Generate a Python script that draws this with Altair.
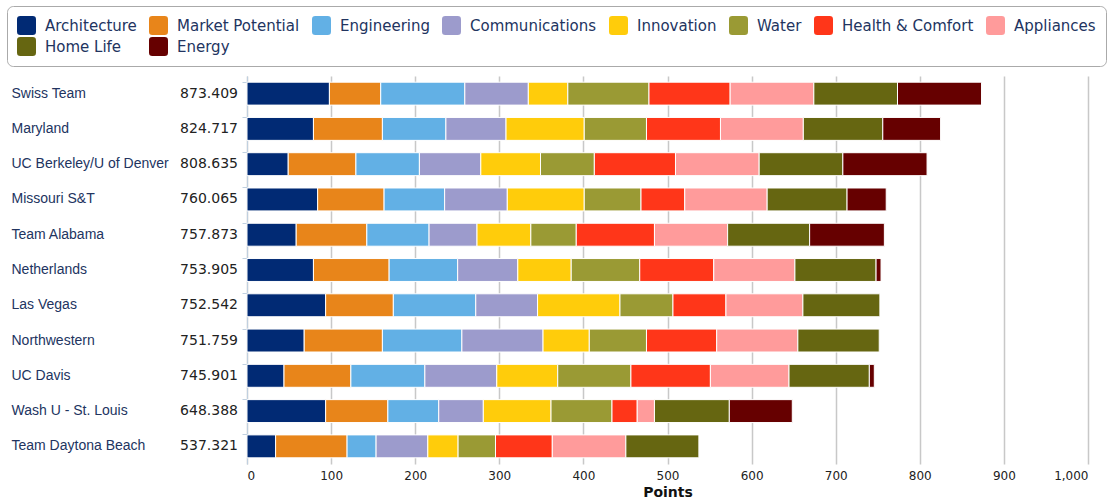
import altair as alt
import pandas as pd

teams = ["Swiss Team", "Maryland", "UC Berkeley/U of Denver", "Missouri S&T", "Team Alabama",
         "Netherlands", "Las Vegas", "Northwestern", "UC Davis", "Wash U - St. Louis",
         "Team Daytona Beach"]
totals = ["873.409", "824.717", "808.635", "760.065", "757.873", "753.905", "752.542",
          "751.759", "745.901", "648.388", "537.321"]

categories = ["Architecture", "Market Potential", "Engineering", "Communications", "Innovation",
              "Water", "Health & Comfort", "Appliances", "Home Life", "Energy"]
colors = ["#012a74", "#e8851a", "#62b0e5", "#9c9bcc", "#ffcc0b", "#9a9a34", "#ff3619",
          "#ff9b9b", "#666611", "#660000"]

architecture = [98, 79, 49, 84, 58.5, 79, 93.5, 68, 44, 93.5, 34]
market_potential = [61, 82, 80.5, 79, 84, 90, 80.5, 93, 79.5, 74, 85]
engineering = [100, 75.5, 75.5, 72, 74, 81.5, 98, 94.5, 88, 60.5, 34.5]
communications = [75.5, 71.5, 73, 74.5, 57, 71.5, 73.5, 96.5, 85.5, 53, 61.5]
innovation = [47, 93, 71, 91.5, 64, 63.5, 98, 55, 72.5, 80.5, 36]
water = [96.5, 74, 64, 67.5, 54, 81.5, 63, 68, 87, 72.5, 44.5]
health_comfort = [96.5, 88, 96.5, 52, 93, 88, 63, 83.5, 94.5, 30, 67.5]
appliances = [99.5, 98.5, 99.5, 98, 87, 96.5, 91.5, 96.5, 93.5, 20.5, 87.5]
home_life = [99.5, 94.5, 99.5, 95, 97.5, 96.5, 91.542, 96.759, 95.5, 89, 86.821]
energy = [99.909, 68.717, 100.135, 46.565, 88.873, 5.905, 0, 0, 5.901, 74.888, 0]

series = [architecture, market_potential, engineering, communications, innovation,
          water, health_comfort, appliances, home_life, energy]

rows = []
for ci, (cat, vals) in enumerate(zip(categories, series)):
    for team, v in zip(teams, vals):
        if v > 0:
            rows.append({"team": team, "category": cat, "idx": ci, "points": v})
df = pd.DataFrame(rows)
tot_df = pd.DataFrame({"team": teams, "total": totals})

rounded = ("M -0.65,-1 L 0.65,-1 Q 1,-1 1,-0.65 L 1,0.65 Q 1,1 0.65,1 L -0.65,1 "
           "Q -1,1 -1,0.65 L -1,-0.65 Q -1,-1 -0.65,-1 Z")

y_enc = alt.Y("team:N", sort=teams,
              scale=alt.Scale(paddingInner=0.35, paddingOuter=0.175),
              axis=alt.Axis(title=None, labelAlign="left", labelPadding=231, tickSize=5,
                            bandPosition=0, domainColor="#c0d0e0", tickColor="#c0d0e0",
                            labelFont="Liberation Sans", labelFontSize=14,
                            labelColor="#22345f", labelLimit=300, grid=False))

bars = alt.Chart(df).mark_bar(stroke="#ffffff", strokeWidth=1).encode(
    x=alt.X("sum(points):Q", stack="zero",
            scale=alt.Scale(domain=[0, 1000], nice=False),
            axis=alt.Axis(title="Points", values=list(range(0, 1001, 100)), format=",.0f",
                          grid=True, gridColor="#c8c8c8", gridWidth=1.5, domain=False,
                          ticks=False, labelFont="DejaVu Sans", labelFontSize=12,
                          labelColor="#222222", labelPadding=6, titleFont="DejaVu Sans",
                          titleFontSize=14, titleFontWeight="bold", titlePadding=4,
                          titleColor="#111111")),
    y=y_enc,
    color=alt.Color("category:N", sort=categories,
                    scale=alt.Scale(domain=categories, range=colors),
                    legend=alt.Legend(title=None, orient="none", legendX=-240, legendY=-70,
                                      direction="horizontal", columns=8, gridAlign="none",
                                      strokeColor="#aaaaaa", cornerRadius=6, padding=10,
                                      fillColor="#ffffff",
                                      symbolType=rounded, symbolSize=361,
                                      symbolStrokeWidth=0, labelFont="DejaVu Sans",
                                      labelFontSize=15, labelColor="#22345f",
                                      labelOffset=9, columnPadding=12, rowPadding=2,
                                      labelLimit=300)),
    order=alt.Order("idx:Q", sort="ascending"),
)

tot = alt.Chart(tot_df).mark_text(align="right", baseline="middle", font="DejaVu Sans",
                                  fontSize=14, color="#222222").encode(
    y=alt.Y("team:N", sort=teams),
    x=alt.value(-9),
    text="total:N",
)

chart = alt.layer(bars, tot).properties(
    width=841, height=388,
    autosize=alt.AutoSizeParams(type="none"),
    padding={"left": 247, "top": 76, "right": 25, "bottom": 38},
).configure_view(stroke=None)

chart.save("out.html", embed_options={"renderer": "svg", "actions": False})
